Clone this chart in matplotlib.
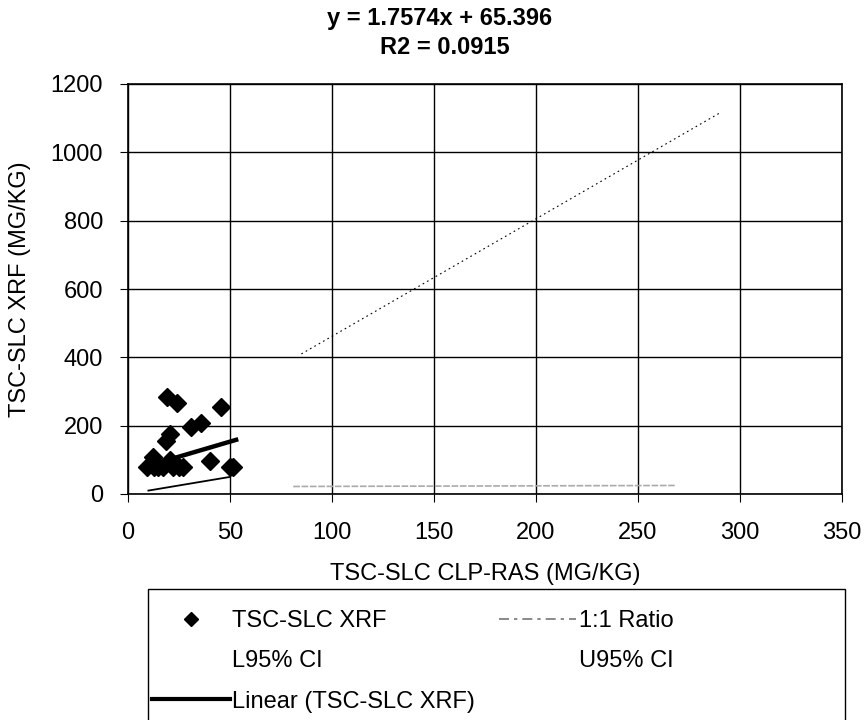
import numpy as np
import matplotlib
matplotlib.use("Agg")
import matplotlib.pyplot as plt
from matplotlib.lines import Line2D
from matplotlib.patches import Rectangle

plt.rcParams['font.family'] = ['Liberation Sans', 'DejaVu Sans']

# Datos
clp_ras = [9.5, 12.1, 12.5, 14.8, 17.2, 18.6, 19.0, 20.6, 20.6, 21.9,
           23.9, 25.0, 27.1, 30.7, 35.6, 40.2, 45.4, 50.0, 51.5]
xrf = [80, 107, 80, 80, 80, 156, 284, 177, 99, 80,
       265, 80, 80, 196, 208, 97, 255, 80, 80]

pendiente = 1.7574
intercepto = 65.396
r2 = 0.0915

ratio_x = [10, 50]
ratio_y = [10, 50]
u95_x = [85, 290]
u95_y = [410, 1115]
l95_x = [81, 268]
l95_y = [22, 25]

xticks = [0, 50, 100, 150, 200, 250, 300, 350]
yticks = [0, 200, 400, 600, 800, 1000, 1200]

fig = plt.figure(figsize=(8.66, 7.2), dpi=100)
ax = fig.add_axes([128 / 866, 1 - 494 / 720, (842 - 128) / 866, (494 - 84) / 720])

ax.plot(u95_x, u95_y, color='black', lw=0.8, ls=(0, (1.5, 3)))
ax.plot(l95_x, l95_y, color='#aaaaaa', lw=1.2, ls=(0, (4, 1)))
ax.plot(ratio_x, ratio_y, color='black', lw=1.3)
ax.plot(clp_ras, xrf, 'D', color='black', ms=9.5, ls='none', zorder=4)

x_lin = np.array([min(clp_ras), 53])
ax.plot(x_lin, pendiente * x_lin + intercepto, color='black', lw=3.2, zorder=5)

ax.set_xlim(0, 350)
ax.set_ylim(0, 1200)
ax.set_xticks(xticks)
ax.set_yticks(yticks)
ax.grid(True, color='black', lw=1.0)
ax.set_axisbelow(True)
for s in ax.spines.values():
    s.set_linewidth(1.2)
ax.tick_params(axis='x', direction='out', length=6, pad=14, labelsize=17)
ax.tick_params(axis='y', direction='out', length=6, pad=12, labelsize=17)

ax.set_xlabel('TSC-SLC CLP-RAS (MG/KG)', fontsize=17, labelpad=14)
ax.set_ylabel('TSC-SLC XRF (MG/KG)', fontsize=17, labelpad=14)

fig.text(440 / 866, 1 - 18 / 720, f'y = {pendiente}x + {intercepto}',
         ha='center', va='center', fontsize=17, fontweight='bold')
fig.text(445 / 866, 1 - 47 / 720, f'R2 = {r2}',
         ha='center', va='center', fontsize=17, fontweight='bold')

# Leyenda
handles = [
    Line2D([], [], marker='D', color='black', ms=7, ls='none'),
    Line2D([], [], ls='none'),
    Line2D([], [], color='black', lw=3),
    Line2D([], [], color='#777777', lw=1.2, ls=(0, (6, 3, 2, 3))),
    Line2D([], [], ls='none'),
]
labels = ['TSC-SLC XRF', 'L95% CI', 'Linear (TSC-SLC XRF)', '1:1 Ratio', 'U95% CI']
fig.legend(handles, labels, ncol=2, loc='upper left',
           bbox_to_anchor=(140 / 866, 1 - 598 / 720), frameon=False,
           fontsize=17, handlelength=3.3, handletextpad=0.1,
           columnspacing=1.0, labelspacing=0.78, borderpad=0)
fig.patches.append(Rectangle((148 / 866, -0.05), (845 - 148) / 866, 0.05 + 1 - 589 / 720,
                             transform=fig.transFigure, fill=False,
                             edgecolor='black', lw=1.0))

fig.savefig('out.png', dpi=100)
